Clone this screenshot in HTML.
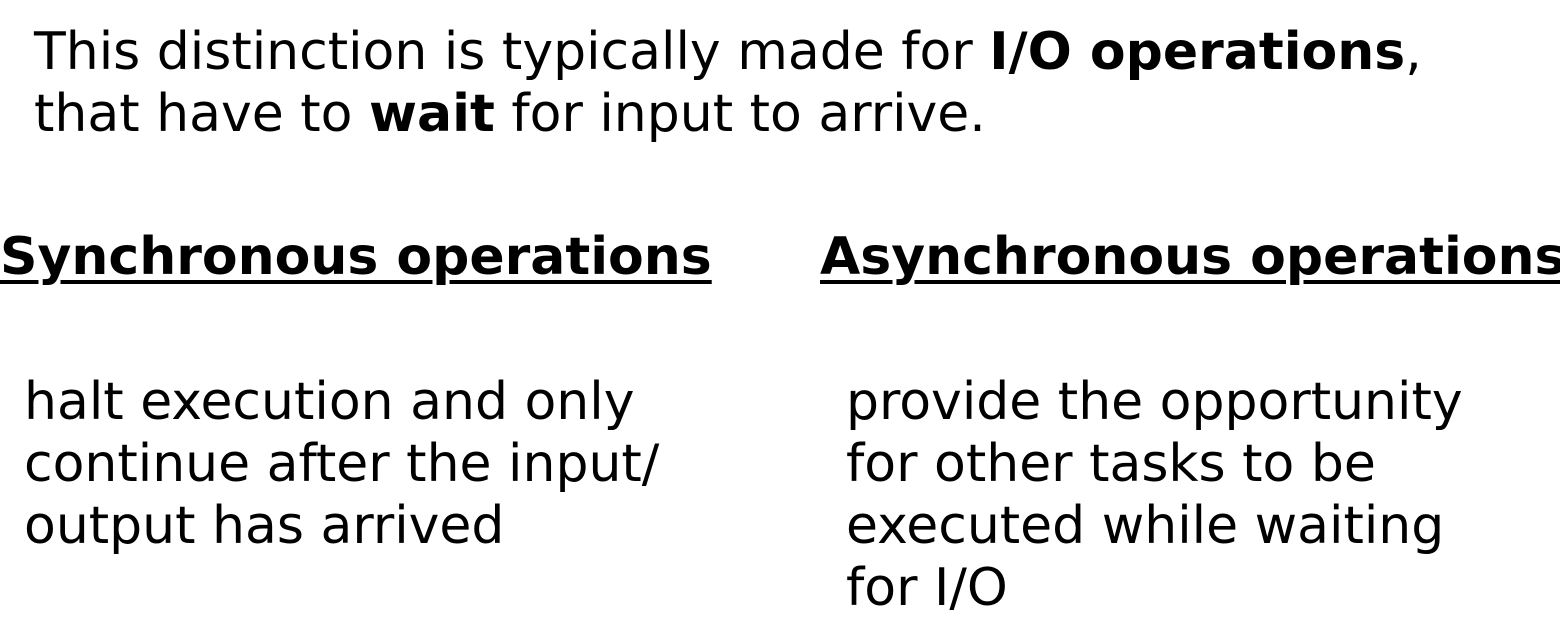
<!DOCTYPE html>
<html><head><meta charset="utf-8"><style>
body{margin:0;width:1560px;height:634px;background:#fff;overflow:hidden;font-family:"DejaVu Sans","Liberation Sans",sans-serif;color:#000}
.t{position:absolute;font-size:52px;line-height:62px;white-space:nowrap}
.h{font-weight:bold;text-decoration:underline;text-decoration-thickness:4px;text-underline-offset:6px}
</style></head><body>
<div class="t" style="left:34px;top:21px">This distinction is typically made for <b>I/O operations</b>,<br>that have to <b>wait</b> for input to arrive.</div>
<div class="t h" style="left:0px;top:226px">Synchronous operations</div>
<div class="t h" style="left:820px;top:226px">Asynchronous operations</div>
<div class="t" style="left:24px;top:371px">halt execution and only<br>continue after the input/<br>output has arrived</div>
<div class="t" style="left:846px;top:371px">provide the opportunity<br>for other tasks to be<br>executed while waiting<br>for I/O</div>
</body></html>
